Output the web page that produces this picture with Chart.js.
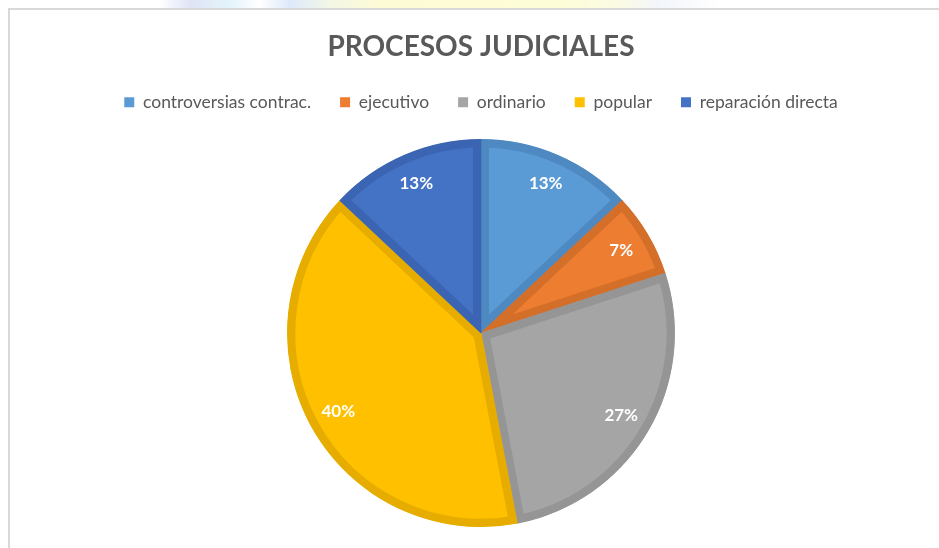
<!DOCTYPE html>
<html>
<head>
<meta charset="utf-8">
<script src="https://cdn.jsdelivr.net/npm/chart.js@4/dist/chart.umd.min.js"></script>
<style>
  html, body { margin: 0; padding: 0; background: #ffffff; }
  body { width: 939px; height: 548px; position: relative; overflow: hidden; }
  #strip {
    position: absolute; left: 0; top: 0; width: 939px; height: 8px;
    background: linear-gradient(90deg,
      #ffffff 0px, #ffffff 160px, #dfe3f5 190px, #e4f4fb 230px, #ffffff 260px,
      #dde9fb 290px, #f3f7e6 330px, #fdfbd6 380px, #fdfdd8 560px, #fbfbe4 620px,
      #f3f6fb 660px, #ffffff 720px, #ffffff 939px);
  }
  #frame {
    position: absolute; left: 8px; top: 8px; width: 940px; height: 550px;
    border-left: 2px solid #d9d9d9; border-top: 2px solid #d9d9d9;
    box-sizing: border-box;
  }
  #wrap { position: absolute; left: 0; top: 0; width: 939px; height: 548px; }
</style>
</head>
<body>
<div id="strip"></div>
<div id="frame"></div>
<div id="wrap"><canvas id="chart"></canvas></div>
<script>
// Share of judicial processes by type (percent)
const categories = ['controversias contrac.', 'ejecutivo', 'ordinario', 'popular', 'reparación directa'];
const shares = [13, 7, 27, 40, 13];
const fillColors = ['#5B9BD5', '#ED7D31', '#A5A5A5', '#FFC000', '#4472C4'];
const edgeColors = ['#4E89C2', '#D46F2A', '#959595', '#E6AD00', '#3B65B2'];

// Writes each slice's percentage inside the slice
const sliceLabels = {
  id: 'sliceLabels',
  afterDatasetsDraw(chart) {
    const ctx = chart.ctx;
    const meta = chart.getDatasetMeta(0);
    ctx.save();
    ctx.font = 'bold 17px Lato, "Open Sans", sans-serif';
    ctx.fillStyle = '#ffffff';
    ctx.textAlign = 'center';
    ctx.textBaseline = 'middle';
    meta.data.forEach((arc, i) => {
      const p = arc.getProps(['x', 'y', 'startAngle', 'endAngle', 'outerRadius'], true);
      const mid = (p.startAngle + p.endAngle) / 2;
      const r = p.outerRadius * 0.84;
      ctx.fillText(shares[i] + '%', p.x + Math.cos(mid) * r, p.y + Math.sin(mid) * r);
    });
    ctx.restore();
  }
};

// Extra room between the legend row and the pie
const legendGap = {
  id: 'legendGap',
  beforeLayout(chart) {
    const lg = chart.legend;
    if (lg && !lg._gapWrapped) {
      const fit = lg.fit.bind(lg);
      lg.fit = function () { fit(); this.height += 18; };
      lg._gapWrapped = true;
    }
  }
};

new Chart(document.getElementById('chart'), {
  type: 'pie',
  data: {
    labels: categories,
    datasets: [{
      data: shares,
      backgroundColor: fillColors,
      borderColor: edgeColors,
      borderWidth: 8,
      borderAlign: 'inner'
    }]
  },
  options: {
    responsive: true,
    maintainAspectRatio: false,
    animation: false,
    layout: { padding: { left: 23, right: 0, top: 20, bottom: 21 } },
    plugins: {
      title: {
        display: true,
        text: 'PROCESOS JUDICIALES',
        color: '#595959',
        font: { family: 'Lato, "Open Sans", sans-serif', size: 28, weight: 'bold' },
        padding: { top: 10, bottom: 1 }
      },
      legend: {
        position: 'top',
        labels: {
          color: '#595959',
          font: { family: 'Lato, "Open Sans", sans-serif', size: 17.5 },
          boxWidth: 10,
          boxHeight: 10,
          padding: 29,
          generateLabels(chart) {
            const items = Chart.overrides.pie.plugins.legend.labels.generateLabels(chart);
            items.forEach(it => { it.lineWidth = 0; it.strokeStyle = it.fillStyle; });
            return items;
          }
        }
      },
      tooltip: { enabled: false }
    }
  },
  plugins: [legendGap, sliceLabels]
});
</script>
</body>
</html>
